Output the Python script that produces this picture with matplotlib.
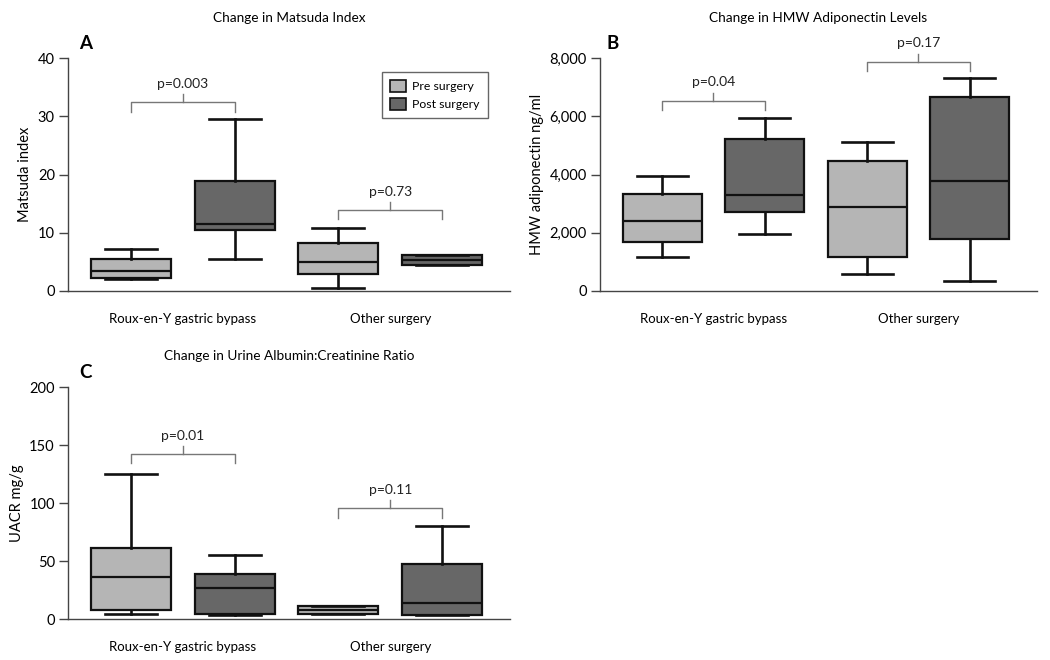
import matplotlib
matplotlib.use("Agg")
import matplotlib.pyplot as plt
from matplotlib.patches import Patch
from matplotlib.ticker import FuncFormatter

plt.rcParams['font.family'] = ['Lato', 'DejaVu Sans']

categories = ["Roux-en-Y gastric bypass", "Other surgery"]
series = ["Pre surgery", "Post surgery"]

# [whislo, q1, median, q3, whishi] per category
matsuda_pre = [[2.0, 2.2, 3.4, 5.5, 7.2], [0.5, 3.0, 5.0, 8.2, 10.9]]
matsuda_post = [[5.5, 10.4, 11.5, 18.8, 29.5], [4.4, 4.4, 5.3, 6.1, 6.1]]
matsuda_p = ["p=0.003", "p=0.73"]
matsuda_bracket = [32.4, 13.9]

adipo_pre = [[1170, 1670, 2395, 3335, 3960], [570, 1170, 2900, 4460, 5100]]
adipo_post = [[1950, 2715, 3280, 5215, 5935], [330, 1800, 3760, 6670, 7300]]
adipo_p = ["p=0.04", "p=0.17"]
adipo_bracket = [6530, 7875]

uacr_pre = [[4.6, 7.4, 36.1, 61.3, 125.2], [4.6, 4.6, 7.4, 11.5, 11.5]]
uacr_post = [[3.4, 4.3, 26.4, 38.7, 55.6], [3.4, 3.4, 13.5, 47.6, 80.2]]
uacr_p = ["p=0.01", "p=0.11"]
uacr_bracket = [142.4, 95.4]

pre_color = "#b5b5b5"
post_color = "#676767"

fig = plt.figure(figsize=(10.5, 6.6), dpi=100)

def stats_list(vals):
    return [dict(whislo=v[0], q1=v[1], med=v[2], q3=v[3], whishi=v[4], fliers=[]) for v in vals]

def panel(rect, pre, post, pvals, brackets, ymax, yticks, ylabel, title, letter,
          letter_x, title_pad, fmt=None, legend=False):
    ax = fig.add_axes(rect)
    pos_pre = [1, 3]
    pos_post = [2, 4]
    for st, pos, col in [(pre, pos_pre, pre_color), (post, pos_post, post_color)]:
        ax.bxp(stats_list(st), positions=pos, widths=0.77, patch_artist=True,
               showfliers=False,
               boxprops=dict(facecolor=col, edgecolor="#111111", linewidth=1.6),
               medianprops=dict(color="#111111", linewidth=1.6),
               whiskerprops=dict(color="#111111", linewidth=1.9),
               capprops=dict(color="#111111", linewidth=1.9),
               capwidths=0.5, zorder=3)
    span = ymax
    leg = 0.04 * span
    tick = 0.035 * span
    for i, (p, yb) in enumerate(zip(pvals, brackets)):
        x0, x1 = pos_pre[i], pos_post[i]
        ax.plot([x0, x0, x1, x1], [yb - leg, yb, yb, yb - leg], color="#777777",
                lw=1.0, clip_on=False, zorder=2)
        ax.plot([(x0 + x1) / 2] * 2, [yb, yb + tick], color="#777777", lw=1.0,
                clip_on=False, zorder=2)
        ax.text((x0 + x1) / 2, yb + tick + 0.018 * span, p, ha="center", va="bottom",
                fontsize=10, color="#222222", clip_on=False)
    ax.set_xlim(0.393, 4.656)
    ax.set_ylim(0, ymax)
    ax.set_yticks(yticks)
    if fmt:
        ax.yaxis.set_major_formatter(FuncFormatter(fmt))
    ax.set_xticks([1.5, 3.5])
    ax.set_xticklabels(categories, fontsize=9.5)
    ax.tick_params(axis="x", length=0, pad=16)
    ax.tick_params(axis="y", length=6.5, width=1.0, color="#444444", labelsize=10.5,
                   direction="out", pad=3)
    for s in ["top", "right"]:
        ax.spines[s].set_visible(False)
    for s in ["left", "bottom"]:
        ax.spines[s].set_color("#444444")
        ax.spines[s].set_linewidth(1.0)
    ax.set_ylabel(ylabel, fontsize=10.5, labelpad=4)
    ax.set_title(title, fontsize=9.8, pad=title_pad)
    ax.text(letter_x, 1.04, letter, transform=ax.transAxes, fontsize=13.5,
            fontweight="bold", ha="left", va="baseline")
    if legend:
        handles = [Patch(facecolor=pre_color, edgecolor="#111111", lw=1.2),
                   Patch(facecolor=post_color, edgecolor="#111111", lw=1.2)]
        lg = ax.legend(handles, series, loc="upper left",
                       bbox_to_anchor=(0.697, 0.965), fontsize=8.8, fancybox=False,
                       edgecolor="#666666", framealpha=1, handlelength=1.3,
                       handleheight=1.1, borderpad=0.65, labelspacing=0.5,
                       handletextpad=0.5)
        lg.get_frame().set_linewidth(1.0)
    return ax

panel([0.0648, 0.5591, 0.4210, 0.353], matsuda_pre, matsuda_post, matsuda_p,
      matsuda_bracket, 40, [0, 10, 20, 30, 40], "Matsuda index",
      "Change in Matsuda Index", "A", 0.025, 26, legend=True)
panel([0.5714, 0.5591, 0.4162, 0.353], adipo_pre, adipo_post, adipo_p,
      adipo_bracket, 8000, [0, 2000, 4000, 6000, 8000], "HMW adiponectin ng/ml",
      "Change in HMW Adiponectin Levels", "B", 0.016, 26,
      fmt=lambda v, p: f"{int(v):,}")
panel([0.0648, 0.0621, 0.4210, 0.3515], uacr_pre, uacr_post, uacr_p,
      uacr_bracket, 200, [0, 50, 100, 150, 200], "UACR mg/g",
      "Change in Urine Albumin:Creatinine Ratio", "C", 0.025, 19.5)

fig.savefig("out.png", dpi=100)
